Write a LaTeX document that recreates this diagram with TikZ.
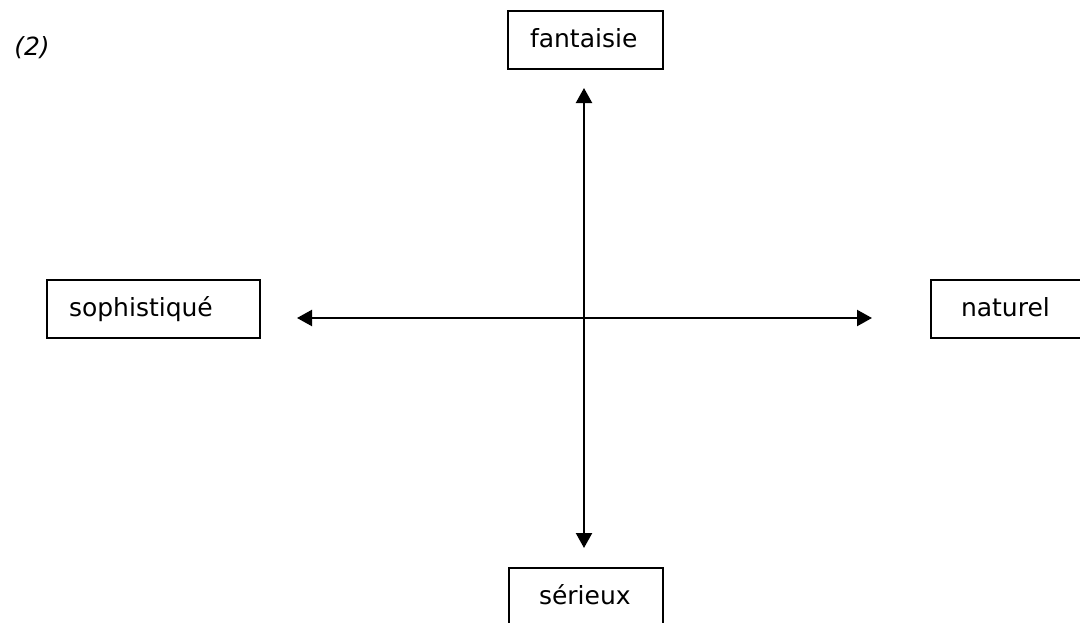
\documentclass[tikz,border=0pt]{standalone}
\usepackage{fontspec}
\setmainfont{DejaVu Sans}
\usetikzlibrary{arrows.meta}
\begin{document}
\begin{tikzpicture}[x=1pt,y=-1pt,
  labelbox/.style={draw=black, line width=2pt, rectangle, anchor=north west,
    minimum height=58pt, align=left, text height=20pt, text depth=5pt,
    font=\fontsize{25}{30}\selectfont},
  axis/.style={line width=2.2pt, {Triangle[length=15pt,width=16pt]}-{Triangle[length=15pt,width=16pt]}}]
  \useasboundingbox (0,0) rectangle (1080,622);
  \clip (0,0) rectangle (1080,622);
  % figure number
  \node (num) at (32,47.5) {\fontsize{25}{30}\selectfont\itshape (2)};
  % the four poles
  \node[labelbox, inner xsep=22pt, text width=111pt] (top) at (507,10) {fantaisie};
  \node[labelbox, inner xsep=30pt, text width=94pt] (bottom) at (508,567) {sérieux};
  \node[labelbox, inner xsep=22pt, text width=169pt] (left) at (46,279) {sophistiqué};
  \node[labelbox, inner xsep=30pt, text width=95pt] (right) at (930,279) {naturel};
  % axes ends
  \coordinate (origin) at (584,318);
  \coordinate (up) at (origin |- 0,88);
  \coordinate (down) at (origin |- 0,548);
  \coordinate (west) at (297,0 |- origin);
  \coordinate (east) at (872,0 |- origin);
  \draw[axis] (up) -- (down);
  \draw[axis] (west) -- (east);
\end{tikzpicture}
\end{document}
